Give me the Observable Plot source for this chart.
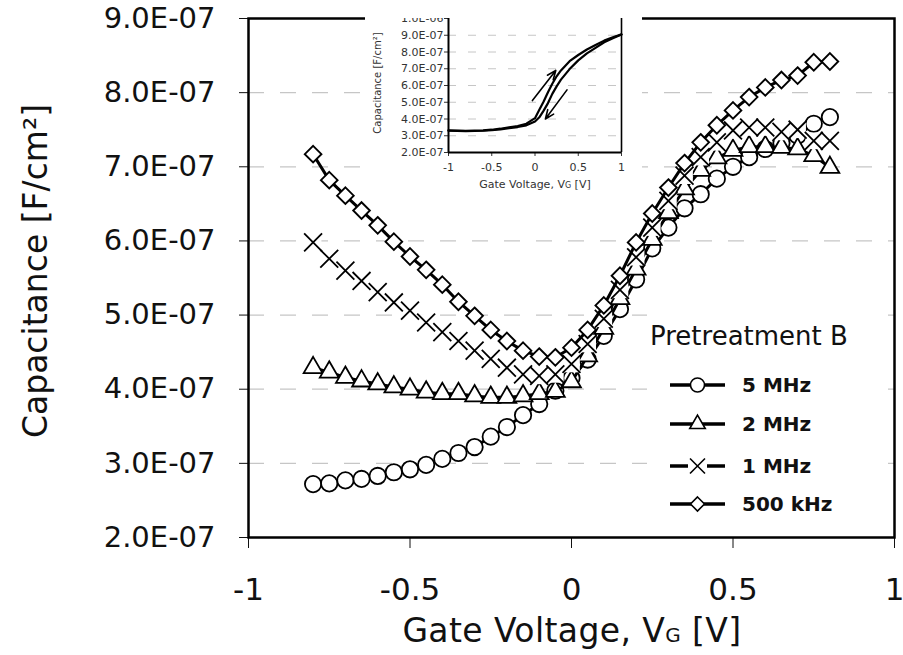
<!DOCTYPE html>
<html><head><meta charset="utf-8">
<script src="https://cdn.jsdelivr.net/npm/d3@7"></script>
<script src="https://cdn.jsdelivr.net/npm/@observablehq/plot@0.6"></script>
<style>
body{margin:0;background:#fff;}
#wrap{position:relative;width:903px;height:655px;overflow:hidden;font-family:"DejaVu Sans",Verdana,sans-serif;}
#main{position:absolute;left:0;top:0;}
#inset{position:absolute;left:365px;top:0;width:277px;height:197px;background:#fff;overflow:hidden;}
#insetPlot{position:absolute;left:0;top:18px;}
#overlay{position:absolute;left:0;top:0;pointer-events:none;}
</style></head><body>
<div id="wrap"><div id="main"></div><div id="inset"><div id="insetPlot"></div></div><svg id="overlay" width="903" height="655"></svg></div>
<script>
// ---------- data (capacitance in units of 1E-07 F/cm²) ----------
const voltage = [-0.8,-0.75,-0.7,-0.65,-0.6,-0.55,-0.5,-0.45,-0.4,-0.35,-0.3,-0.25,-0.2,-0.15,-0.1,-0.05,0,0.05,0.1,0.15,0.2,0.25,0.3,0.35,0.4,0.45,0.5,0.55,0.6,0.65,0.7,0.75,0.8];
const c5MHz   = [2.72,2.73,2.77,2.79,2.83,2.88,2.92,2.98,3.06,3.14,3.22,3.36,3.49,3.65,3.80,3.98,4.15,4.40,4.72,5.08,5.48,5.90,6.18,6.44,6.63,6.84,7.00,7.13,7.24,7.32,7.42,7.58,7.67];
const c2MHz   = [4.29,4.23,4.16,4.11,4.07,4.03,4.00,3.96,3.94,3.94,3.91,3.89,3.89,3.91,3.94,3.97,4.10,4.45,4.82,5.22,5.62,6.02,6.38,6.70,6.95,7.12,7.22,7.27,7.27,7.26,7.24,7.15,6.99];
const c1MHz   = [5.98,5.76,5.60,5.46,5.31,5.17,5.06,4.90,4.77,4.65,4.52,4.41,4.29,4.20,4.18,4.20,4.34,4.61,4.95,5.34,5.78,6.18,6.54,6.88,7.13,7.33,7.49,7.53,7.53,7.47,7.50,7.35,7.35];
const c500kHz = [7.17,6.82,6.61,6.41,6.21,5.99,5.79,5.61,5.41,5.18,4.99,4.80,4.65,4.52,4.44,4.43,4.56,4.80,5.13,5.53,5.98,6.37,6.72,7.05,7.33,7.56,7.76,7.94,8.07,8.17,8.23,8.41,8.42];
const seriesNames = ["5 MHz","2 MHz","1 MHz","500 kHz"];
const xTicks = [-1,-0.5,0,0.5,1];
const yTicks = [2e-7,3e-7,4e-7,5e-7,6e-7,7e-7,8e-7,9e-7];
const gridValues = [3e-7,4e-7,5e-7,6e-7,7e-7,8e-7];

// inset (hysteresis sweep), capacitance in 1E-07 F/cm²
const insetV    = [-1,-0.8,-0.6,-0.5,-0.4,-0.3,-0.2,-0.1,0,0.05,0.1,0.15,0.2,0.25,0.3,0.4,0.5,0.6,0.7,0.8,0.9,1];
const insetUp   = [3.32,3.30,3.32,3.36,3.42,3.50,3.58,3.72,4.05,4.55,5.05,5.60,6.10,6.55,6.90,7.45,7.82,8.15,8.42,8.68,8.88,9.05];
const insetDown = [3.30,3.28,3.30,3.33,3.38,3.45,3.52,3.62,3.85,4.10,4.50,4.95,5.50,5.95,6.35,6.98,7.50,7.92,8.25,8.58,8.82,9.04];
const insetYTicks = [2e-7,3e-7,4e-7,5e-7,6e-7,7e-7,8e-7,9e-7,1e-6];
const insetGrid = [3e-7,4e-7,5e-7,6e-7,7e-7,8e-7,9e-7];
const arrowX1 = [-0.03, 0.37], arrowY1 = [5.10, 5.74];
const arrowX2 = [0.24, 0.12],  arrowY2 = [6.90, 4.00];

// ---------- helpers ----------
const fmtSci = d => { const [m, e] = d.toExponential(1).split("e"); const n = +e; return `${m}E${n < 0 ? "-" : "+"}${String(Math.abs(n)).padStart(2, "0")}`; };
const rowsOf = (xs, vals) => xs.map((v, i) => ({v, c: vals[i] * 1e-7}));
const seriesValues = {"5 MHz": c5MHz, "2 MHz": c2MHz, "1 MHz": c1MHz, "500 kHz": c500kHz};
const seriesStyle = {
  "5 MHz":   {symbol: "circle",    r: 8.2, fill: "white", sw: 1.8, line: true},
  "2 MHz":   {symbol: "triangle2", r: 9.0, fill: "white", sw: 1.8, line: true},
  "1 MHz":   {symbol: "times",     r: 8.2, fill: "none",  sw: 1.8, line: false, backing: 9.4},
  "500 kHz": {symbol: "diamond2",  r: 7.5, fill: "white", sw: 1.9, line: true}
};

// ---------- main chart ----------
const marks = [Plot.ruleY(gridValues, {stroke: "#c6c6c6", strokeWidth: 1.3, strokeDasharray: "16 16"})];
seriesNames.forEach(name => {
  const rows = rowsOf(voltage, seriesValues[name]);
  const st = seriesStyle[name];
  if (st.line) marks.push(Plot.line(rows, {x: "v", y: "c", stroke: "black", strokeWidth: 3}));
  if (st.backing) marks.push(Plot.dot(rows, {x: "v", y: "c", symbol: "square", r: st.backing, fill: "white", stroke: "none"}));
  marks.push(Plot.dot(rows, {x: "v", y: "c", symbol: st.symbol, r: st.r, fill: st.fill, stroke: "black", strokeWidth: st.sw}));
});
marks.push(Plot.frame({stroke: "black", strokeWidth: 2.5}));

const main = Plot.plot({
  width: 903, height: 655,
  marginLeft: 248, marginRight: 9, marginTop: 18, marginBottom: 118,
  x: {domain: [-1, 1], ticks: xTicks, tickFormat: d => String(d), tickSize: 11, tickPadding: 29, label: null},
  y: {domain: [2e-7, 9e-7], ticks: yTicks, tickFormat: fmtSci, tickSize: 9, tickPadding: 24, label: null},
  style: {fontSize: "29px", fontFamily: "'DejaVu Sans', Verdana, sans-serif", color: "#111", background: "white"},
  marks
});
document.getElementById("main").appendChild(main);
main.querySelectorAll('[aria-label^="x-axis"] text').forEach(t => t.style.fontSize = "31px");

// ---------- inset chart ----------
const inset = Plot.plot({
  width: 277, height: 179,
  marginLeft: 83, marginRight: 21, marginTop: 0, marginBottom: 45,
  x: {domain: [-1, 1], ticks: xTicks, tickFormat: d => String(d), tickSize: 4, tickPadding: 7, label: null},
  y: {domain: [2e-7, 1e-6], ticks: insetYTicks, tickFormat: fmtSci, tickSize: 4, tickPadding: 1, label: null},
  style: {fontSize: "11px", fontFamily: "'DejaVu Sans', Verdana, sans-serif", color: "#333", background: "white"},
  marks: [
    Plot.ruleY(insetGrid, {stroke: "#c6c6c6", strokeWidth: 1, strokeDasharray: "8 12"}),
    Plot.line(rowsOf(insetV, insetUp), {x: "v", y: "c", stroke: "black", strokeWidth: 2.2}),
    Plot.line(rowsOf(insetV, insetDown), {x: "v", y: "c", stroke: "black", strokeWidth: 2.2}),
    Plot.arrow(arrowX1.map((x, i) => ({x1: x, y1: arrowY1[i] * 1e-7, x2: arrowX2[i], y2: arrowY2[i] * 1e-7})),
      {x1: "x1", y1: "y1", x2: "x2", y2: "y2", stroke: "black", strokeWidth: 1.6, headLength: 9, headAngle: 45}),
    Plot.ruleX([-1], {stroke: "black", strokeWidth: 2}),
    Plot.ruleX([1], {stroke: "black", strokeWidth: 1.6}),
    Plot.ruleY([2e-7], {stroke: "black", strokeWidth: 2})
  ]
});
inset.style.overflow = "hidden";
document.getElementById("insetPlot").appendChild(inset);

// ---------- overlay: axis titles, inset titles, legend ----------
const ov = d3.select("#overlay").style("font-family", "'DejaVu Sans', Verdana, sans-serif");
ov.append("text").attr("transform", "translate(47,271) rotate(-90)").attr("text-anchor", "middle")
  .attr("font-size", 33).attr("fill", "#111").text("Capacitance [F/cm²]");
const xt = ov.append("text").attr("x", 572).attr("y", 642).attr("text-anchor", "middle")
  .attr("font-size", 33).attr("letter-spacing", 0.4).attr("fill", "#111");
xt.append("tspan").text("Gate Voltage, V");
xt.append("tspan").attr("font-size", 20).text("G");
xt.append("tspan").text(" [V]");

ov.append("text").attr("transform", "translate(381,83) rotate(-90)").attr("text-anchor", "middle")
  .attr("font-size", 10).attr("fill", "#333").text("Capacitance [F/cm²]");
const it = ov.append("text").attr("x", 535).attr("y", 188).attr("text-anchor", "middle")
  .attr("font-size", 11).attr("fill", "#333");
it.append("tspan").text("Gate Voltage, V");
it.append("tspan").attr("font-size", 8).text("G");
it.append("tspan").text(" [V]");

// legend
ov.append("rect").attr("x", 647).attr("y", 306).attr("width", 239).attr("height", 216).attr("fill", "white");
ov.append("text").attr("x", 650).attr("y", 345).attr("font-size", 26).attr("fill", "#111").text("Pretreatment B");
const legendY = [385, 424, 466, 504];
const legendSym = {
  "5 MHz": [d3.symbolCircle, 154, "white"],
  "2 MHz": [d3.symbolTriangle2, 172, "white"],
  "1 MHz": [d3.symbolTimes, 148, "none"],
  "500 kHz": [d3.symbolDiamond2, 125, "white"]
};
seriesNames.forEach((name, i) => {
  const y = legendY[i];
  if (name === "1 MHz") {
    ov.append("line").attr("x1", 670).attr("x2", 688).attr("y1", y).attr("y2", y).attr("stroke", "black").attr("stroke-width", 3.5);
    ov.append("line").attr("x1", 707).attr("x2", 725).attr("y1", y).attr("y2", y).attr("stroke", "black").attr("stroke-width", 3.5);
  } else {
    ov.append("line").attr("x1", 670).attr("x2", 725).attr("y1", y).attr("y2", y).attr("stroke", "black").attr("stroke-width", 3.5);
  }
  const [sym, size, fill] = legendSym[name];
  ov.append("path").attr("transform", `translate(697.5,${y})`).attr("d", d3.symbol(sym, size)())
    .attr("fill", fill).attr("stroke", "black").attr("stroke-width", 1.6);
  ov.append("text").attr("x", 742).attr("y", y + 7).attr("font-size", 20).attr("font-weight", "bold")
    .attr("fill", "#111").text(name);
});
</script>
</body></html>
